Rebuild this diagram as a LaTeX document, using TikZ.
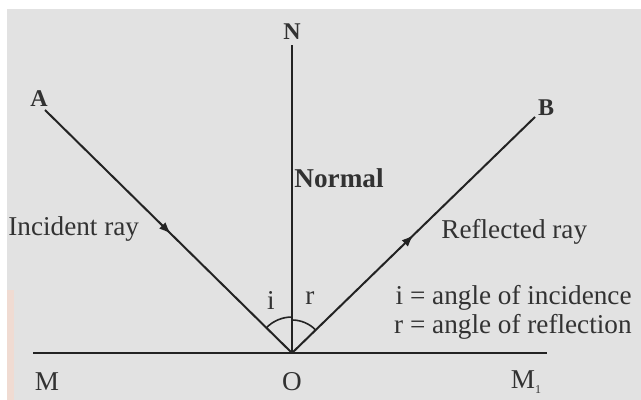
\documentclass[tikz,border=0pt]{standalone}
\usepackage{fontspec}
\setmainfont{Liberation Serif}
\usetikzlibrary{arrows.meta,decorations.markings,calc}
\definecolor{bg}{RGB}{226,226,226}
\definecolor{ink}{RGB}{35,35,35}
\definecolor{txt}{RGB}{50,50,50}
\definecolor{peach}{RGB}{250,215,200}
\tikzset{
  ray/.style={draw=ink,line width=1pt},
  midarrow/.style={postaction={decorate},decoration={markings,mark=at position #1 with {\arrow{Latex[length=6pt,width=4.5pt]}}}},
  lbl/.style={text=txt,font=\fontsize{13.6}{16}\selectfont,inner sep=0pt},
  pt/.style={text=txt,font=\bfseries\fontsize{12}{14}\selectfont,inner sep=0pt},
}
\begin{document}
\begin{tikzpicture}[x=0.5pt,y=-0.5pt]
\useasboundingbox (0,0) rectangle (641,400);
\fill[white] (0,0) rectangle (641,400);
\fill[bg] (7,9) rectangle (641,400);
\fill[peach,opacity=0.6] (7,290) rectangle (14,400);
% points
\coordinate (O) at (292,353);
\coordinate (N) at (292,45);
\coordinate (A) at (45,110);
\coordinate (B) at (535,117);
\coordinate (M) at (33,353);
\coordinate (M1) at (547,353);
% lines
\draw[ray] (M) -- (M1);
\draw[ray] (O) -- (N);
\draw[ray,midarrow=0.51] (A) -- (O);
\draw[ray,midarrow=0.5] (O) -- (B);
% angle arcs (y axis points down, so angles are measured clockwise)
\draw[ink,line width=0.8pt] ($(O)+(224.5:36)$) arc[start angle=224.5,end angle=270,radius=36];
\draw[ink,line width=0.8pt] ($(O)+(270:33)$) arc[start angle=270,end angle=315.8,radius=33];
% labels
\node[pt] (nN) at (292,32) {N};
\node[pt] (nA) at (39,99) {A};
\node[pt] (nB) at (546,108) {B};
\node[lbl,font=\bfseries\fontsize{13.6}{16}\selectfont] (nNormal) at (339,178) {Normal};
\node[lbl,anchor=west] (nInc) at (8,229) {Incident ray};
\node[lbl,anchor=west] (nRef) at (441,232) {Reflected ray};
\node[lbl,anchor=east] (nI) at (632,298) {i = angle of incidence};
\node[lbl,anchor=east] (nR) at (632,327) {r = angle of reflection};
\node[lbl] (ni) at (271,300) {i};
\node[lbl] (nr) at (310,298) {r};
\node[lbl] (nM) at (47,382) {M};
\node[lbl] (nO) at (292,382) {O};
\node[lbl] (nM1) at (526,382) {M\raisebox{-0.4ex}{\fontsize{6}{7}\selectfont 1}};
\end{tikzpicture}
\end{document}
